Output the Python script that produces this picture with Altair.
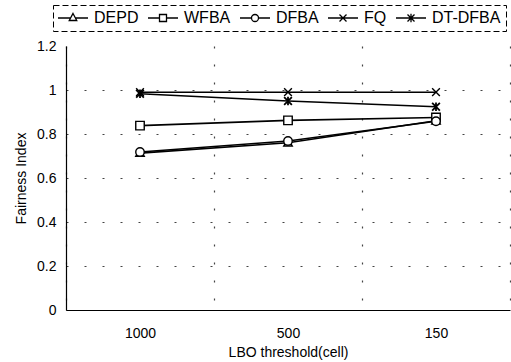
import altair as alt
import pandas as pd

categories = ["1000", "500", "150"]
series_names = ["DEPD", "WFBA", "DFBA", "FQ", "DT-DFBA"]
depd = [0.713, 0.760, 0.860]
wfba = [0.838, 0.862, 0.875]
dfba = [0.718, 0.768, 0.858]
fq = [0.990, 0.990, 0.990]
dtdfba = [0.983, 0.950, 0.924]
y_ticks = [0, 0.2, 0.4, 0.6, 0.8, 1.0, 1.2]

series_values = {"DEPD": depd, "WFBA": wfba, "DFBA": dfba, "FQ": fq, "DT-DFBA": dtdfba}
rows = []
for s in series_names:
    for c, v in zip(categories, series_values[s]):
        rows.append({"series": s, "threshold": c, "value": v})
df = pd.DataFrame(rows)

FONT = "Liberation Sans"

# chart markers (unit square paths)
marker_paths = {
    "DEPD": "M0,-1L1,0.75L-1,0.75Z",
    "WFBA": "M-1,-1L1,-1L1,1L-1,1Z",
    "DFBA": "M1,0A1,1 0 1,1 -1,0A1,1 0 1,1 1,0Z",
    "FQ": "M-1,-1L1,1M1,-1L-1,1",
    "DT-DFBA": "M-1,-1L1,1M1,-1L-1,1M0,-1.1L0,1.1",
}
marker_open = {"DEPD": True, "WFBA": True, "DFBA": True, "FQ": False, "DT-DFBA": False}

# legend symbols: line with marker (unit = 5px, line 30px long)
legend_paths = [
    "M-3,0L-0.5,0M0.5,0L3,0M0,-0.9L0.75,0.5L-0.75,0.5Z",
    "M-3,0L-0.7,0M0.7,0L3,0M-0.7,-0.7L0.7,-0.7L0.7,0.7L-0.7,0.7Z",
    "M-3,0L-0.7,0M0.7,0L3,0M0.7,0A0.7,0.7 0 1,1 -0.7,0A0.7,0.7 0 1,1 0.7,0Z",
    "M-3,0L3,0M-0.7,-0.7L0.7,0.7M0.7,-0.7L-0.7,0.7",
    "M-3,0L3,0M-0.7,-0.7L0.7,0.7M0.7,-0.7L-0.7,0.7M0,-0.85L0,0.85",
]

x_enc = alt.X(
    "threshold:N",
    sort=categories,
    scale=alt.Scale(domain=categories, paddingInner=0, paddingOuter=0),
    axis=alt.Axis(
        title="LBO threshold(cell)",
        tickBand="extent",
        grid=True,
        gridDash=[2, 16],
        gridColor="#444",
        gridWidth=1.2,
        ticks=False,
        labelAngle=0,
        labelPadding=16,
        titlePadding=5,
        labelFont=FONT,
        labelFontSize=14,
        titleFont=FONT,
        titleFontSize=14,
        titleFontWeight="normal",
        labelColor="black",
        titleColor="black",
        domainColor="black",
        domainWidth=1.2,
    ),
)
y_enc = alt.Y(
    "value:Q",
    scale=alt.Scale(domain=[0, 1.2], nice=False, zero=True),
    axis=alt.Axis(
        title="Fairness Index",
        values=y_ticks,
        format=".1~f",
        grid=True,
        gridDash=[2, 16],
        gridColor="#444",
        gridWidth=1.2,
        gridOpacity={"condition": {"test": "datum.value >= 1.19", "value": 0}, "value": 1},
        ticks=False,
        labelPadding=10,
        titlePadding=8,
        labelFont=FONT,
        labelFontSize=14,
        titleFont=FONT,
        titleFontSize=14,
        titleFontWeight="normal",
        labelColor="black",
        titleColor="black",
        domainColor="black",
        domainWidth=1.2,
    ),
)

base = alt.Chart(df)

lines = base.mark_line(color="black", strokeWidth=1.6).encode(
    x=x_enc, y=y_enc, detail="series:N"
)

layers = [lines]
for s in series_names:
    if marker_open[s]:
        mk = base.mark_point(
            shape=marker_paths[s], filled=True, fill="white", stroke="black",
            strokeWidth=1.4, size=72, opacity=1,
        )
    else:
        mk = base.mark_point(
            shape=marker_paths[s], filled=False, stroke="black",
            strokeWidth=1.8 if s == "DT-DFBA" else 1.4, size=60, opacity=1,
        )
    layers.append(
        mk.encode(x=x_enc, y=y_enc).transform_filter(alt.datum.series == s)
    )

legend_layer = base.mark_point(
    filled=False, color="black", opacity=1, strokeWidth=1.3
).encode(
    x=x_enc,
    y=y_enc,
    shape=alt.Shape(
        "series:N",
        scale=alt.Scale(domain=series_names, range=legend_paths),
        legend=alt.Legend(
            title=None,
            orient="none",
            legendX=-13,
            legendY=-41,
            direction="horizontal",
            gridAlign="none",
            columnPadding=6,
            symbolOffset=7,
            labelOffset=13,
            symbolSize=100,
            symbolStrokeWidth=1.3,
            symbolStrokeColor="black",
            labelFont=FONT,
            labelFontSize=16,
            labelColor="black",
            padding=5,
            strokeColor="black",
        ),
    ),
).transform_filter("false")

layers.append(legend_layer)

chart = (
    alt.layer(*layers)
    .properties(
        width=444,
        height=264,
        autosize=alt.AutoSizeParams(type="none"),
        padding={"left": 66, "top": 46, "right": 1, "bottom": 52},
        background="white",
    )
    .configure_view(stroke=None)
    .configure_legend(strokeDash=[6, 3], strokeWidth=1)
)

chart.save("out.html", embed_options={"renderer": "svg", "actions": False})
